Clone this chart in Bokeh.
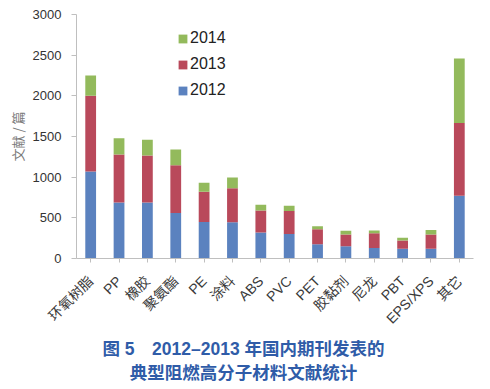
from bokeh.plotting import figure
from bokeh.layouts import column, row
from bokeh.models import Range1d, FactorRange, Legend, LegendItem, ColumnDataSource, Spacer
from bokeh.core.properties import value
from bokeh.embed import file_html
from bokeh.resources import INLINE
import math

categories = ["环氧树脂", "PP", "橡胶", "聚氨酯", "PE", "涂料", "ABS", "PVC",
              "PET", "胶黏剂", "尼龙", "PBT", "EPS/XPS", "其它"]
y2012 = [1070, 690, 690, 560, 450, 445, 320, 300, 175, 150, 130, 120, 120, 770]
y2013 = [930, 590, 575, 585, 370, 420, 270, 285, 185, 145, 180, 100, 175, 895]
y2014 = [250, 200, 195, 195, 110, 130, 70, 65, 35, 45, 35, 35, 55, 795]
years = ["2012", "2013", "2014"]
colors = ["#5B82BF", "#B9495B", "#93BA5C"]
y_ticks = [0, 500, 1000, 1500, 2000, 2500, 3000]
y_label = "文献 / 篇"
caption_lines = ["图 5\u30002012–2013 年国内期刊发表的", "典型阻燃高分子材料文献统计"]

TOP = 14
AXIS_H = 77
P_H = TOP + 244 + AXIS_H
CAP_H = 46

src = ColumnDataSource(dict(cat=categories, y2012=y2012, y2013=y2013, y2014=y2014))

p = figure(width=470, height=P_H, x_range=FactorRange(factors=categories, range_padding=0),
           y_range=Range1d(0, 3000), output_backend="svg", toolbar_location=None,
           min_border_left=67, min_border_right=1, min_border_top=TOP, min_border_bottom=0)
p.outline_line_color = None
p.xgrid.grid_line_color = None
p.ygrid.grid_line_color = None
p.background_fill_color = "white"
p.border_fill_color = "white"

rs = p.vbar_stack(["y2012", "y2013", "y2014"], x="cat", width=0.38, source=src,
                  color=colors, line_color=None)

# y axis
ya = p.yaxis[0]
ya.ticker = y_ticks
ya.axis_line_color = "#BFBFBF"
ya.major_tick_line_color = "#BFBFBF"
ya.major_tick_out = 5
ya.major_tick_in = 0
ya.minor_tick_line_color = None
ya.major_label_text_font = "Liberation Sans"
ya.major_label_text_font_size = "13px"
ya.major_label_text_color = "#333333"
ya.major_label_standoff = 10
ya.axis_label = y_label
ya.axis_label_text_font = "Noto Sans CJK SC"
ya.axis_label_text_font_size = "13px"
ya.axis_label_text_font_style = "normal"
ya.axis_label_text_color = "#7A7A7A"
ya.axis_label_standoff = 3

# x axis
xa = p.xaxis[0]
xa.axis_line_color = "#BFBFBF"
xa.major_tick_line_color = "#BFBFBF"
xa.major_tick_out = 4
xa.major_tick_in = 0
xa.major_label_orientation = math.pi / 4
xa.major_label_text_font = "Liberation Sans, Noto Sans CJK SC"
xa.major_label_text_font_size = "14px"
xa.major_label_text_color = "#3A3A3A"
xa.major_label_standoff = 16

legend = Legend(items=[LegendItem(label=years[2], renderers=[rs[2]]),
                       LegendItem(label=years[1], renderers=[rs[1]]),
                       LegendItem(label=years[0], renderers=[rs[0]])],
                location=(101, 158), orientation="vertical",
                glyph_width=11, glyph_height=11, label_height=20, spacing=6,
                padding=0, margin=0, label_standoff=2,
                label_text_font="Liberation Sans", label_text_font_size="16px",
                label_text_color="#222222",
                border_line_color=None, background_fill_alpha=0)
p.add_layout(legend)

# caption figure
cap = figure(width=474, height=CAP_H, x_range=Range1d(0, 474), y_range=Range1d(0, CAP_H),
             output_backend="svg", toolbar_location=None,
             x_axis_location=None, y_axis_location=None,
             min_border=0, min_border_left=0, min_border_right=0,
             min_border_top=0, min_border_bottom=0)
cap.outline_line_color = None
cap.xgrid.grid_line_color = None
cap.ygrid.grid_line_color = None
cap_src = ColumnDataSource(dict(x=[243, 243], y=[CAP_H - 13, CAP_H - 37], t=caption_lines))
cap.text(x="x", y="y", text="t", source=cap_src, text_align="center", text_baseline="middle",
         text_font=value("Liberation Sans, Noto Sans CJK SC"), text_font_size="17.5px",
         text_font_style="bold", text_color="#2F5CA8")

layout = column(row(Spacer(width=4, height=P_H), p), cap)
open("out.html", "w").write(file_html(layout, INLINE))
